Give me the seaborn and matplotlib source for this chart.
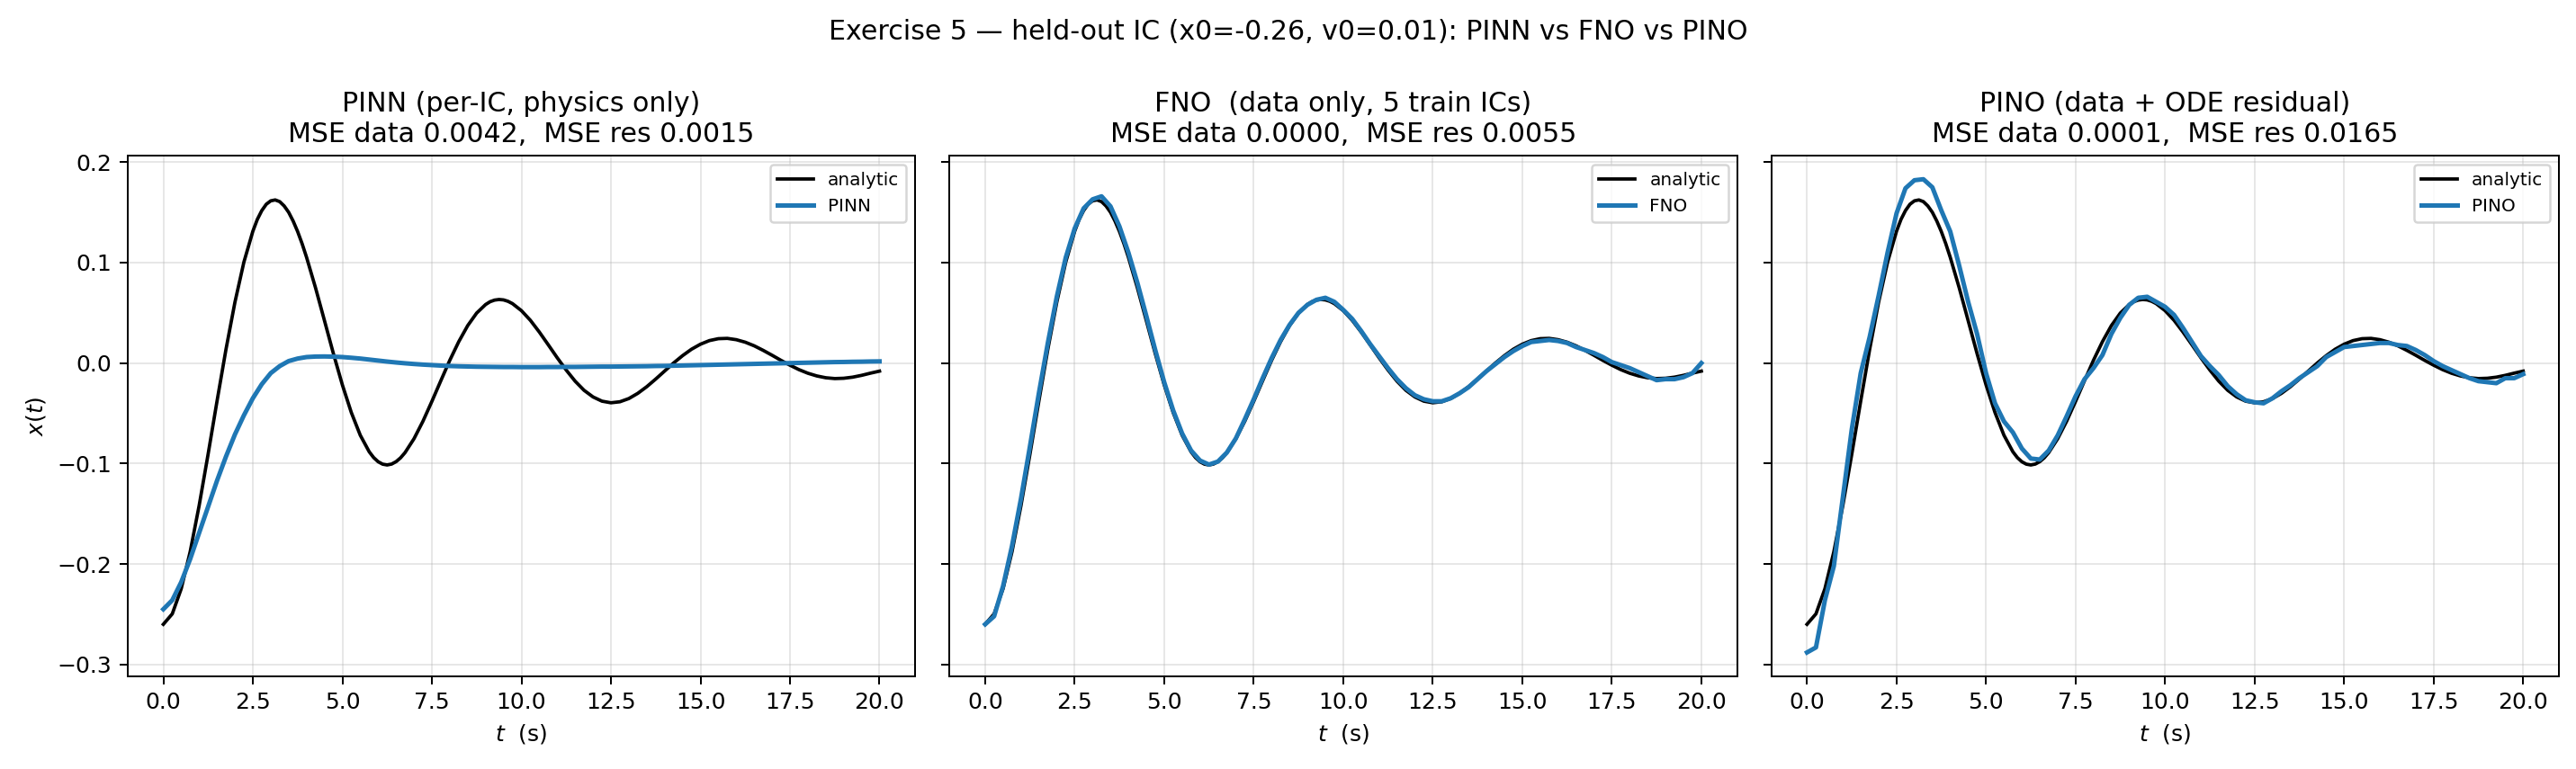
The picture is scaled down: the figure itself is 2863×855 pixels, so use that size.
import numpy as np
import pandas as pd
import matplotlib
matplotlib.use("Agg")
import matplotlib.pyplot as plt
import seaborn as sns

# time grid (s) for the network predictions
t = np.linspace(0, 20, 81)

# analytic solution (denser near the extremes)
t_analytic = [
    0.0, 0.25, 0.5, 0.75, 1.0, 1.25, 1.5, 1.75, 2.0, 2.25, 2.5,
    2.625, 2.75, 2.875, 3.0, 3.125, 3.25, 3.375, 3.5, 3.625, 3.75, 3.875,
    4.0, 4.25, 4.5, 4.75, 5.0, 5.25, 5.5, 5.75,
    5.875, 6.0, 6.125, 6.25, 6.375, 6.5, 6.625, 6.75,
    7.0, 7.25, 7.5, 7.75, 8.0, 8.25, 8.5, 8.75,
    9.0, 9.125, 9.25, 9.375, 9.5, 9.625, 9.75,
    10.0, 10.25, 10.5, 10.75, 11.0, 11.25, 11.5, 11.75,
    12.0, 12.25, 12.5, 12.75, 13.0, 13.25, 13.5, 13.75,
    14.0, 14.25, 14.5, 14.75, 15.0, 15.25, 15.5, 15.75,
    16.0, 16.25, 16.5, 16.75, 17.0, 17.25, 17.5, 17.75,
    18.0, 18.25, 18.5, 18.75, 19.0, 19.25, 19.5, 19.75, 20.0,
]
analytic = [
    -0.2600, -0.2496, -0.2246, -0.1877, -0.1419, -0.0908, -0.0378, 0.0137, 0.0606, 0.1005, 0.1312,
    0.1430, 0.1518, 0.1581, 0.1615, 0.1624, 0.1607, 0.1564, 0.1501, 0.1414, 0.1310, 0.1189,
    0.1053, 0.0750, 0.0423, 0.0094, -0.0217, -0.0492, -0.0718, -0.0883,
    -0.0941, -0.0982, -0.1006, -0.1014, -0.1005, -0.0981, -0.0943, -0.0891,
    -0.0753, -0.0579, -0.0381, -0.0175, 0.0028, 0.0213, 0.0373, 0.0498,
    0.0583, 0.0611, 0.0627, 0.0633, 0.0629, 0.0615, 0.0592,
    0.0522, 0.0426, 0.0309, 0.0182, 0.0053, -0.0069, -0.0180, -0.0271,
    -0.0337, -0.0379, -0.0395, -0.0385, -0.0353, -0.0301, -0.0235, -0.0159,
    -0.0079, 0.0001, 0.0074, 0.0138, 0.0188, 0.0224, 0.0243, 0.0246,
    0.0233, 0.0208, 0.0172, 0.0127, 0.0078, 0.0027, -0.0021, -0.0065,
    -0.0101, -0.0128, -0.0146, -0.0154, -0.0151, -0.0140, -0.0122, -0.0100, -0.0080,
]

pinn = [
    -0.245, -0.236, -0.218, -0.195,
    -0.169, -0.143, -0.117, -0.093,
    -0.071, -0.052, -0.035, -0.021,
    -0.010, -0.003, 0.002, 0.0045,
    0.006, 0.0065, 0.0066, 0.0064,
    0.006, 0.0053, 0.0045, 0.0035,
    0.0025, 0.0015, 0.0006, -0.0002,
    -0.0009, -0.0015, -0.0020, -0.0025,
    -0.0029, -0.0032, -0.0034, -0.0036,
    -0.0037, -0.0038, -0.0039, -0.0039,
    -0.0040, -0.0040, -0.0040, -0.0039,
    -0.0039, -0.0038, -0.0038, -0.0037,
    -0.0036, -0.0035, -0.0035, -0.0034,
    -0.0033, -0.0032, -0.0031, -0.0029,
    -0.0028, -0.0026, -0.0024, -0.0022,
    -0.0020, -0.0018, -0.0016, -0.0014,
    -0.0012, -0.0010, -0.0008, -0.0006,
    -0.0004, -0.0002, 0.0000, 0.0002,
    0.0004, 0.0006, 0.0008, 0.0010,
    0.0011, 0.0013, 0.0014, 0.0016,
    0.0017,
]

fno = [
    -0.260, -0.252, -0.222, -0.182,
    -0.135, -0.083, -0.030, 0.020,
    0.066, 0.105, 0.134, 0.154,
    0.163, 0.166, 0.156, 0.136,
    0.110, 0.080, 0.047, 0.013,
    -0.019, -0.047, -0.070, -0.087,
    -0.097, -0.101, -0.098, -0.089,
    -0.075, -0.056, -0.036, -0.015,
    0.005, 0.023, 0.038, 0.050,
    0.058, 0.063, 0.065, 0.061,
    0.053, 0.044, 0.032, 0.019,
    0.007, -0.005, -0.016, -0.025,
    -0.032, -0.036, -0.038, -0.038,
    -0.035, -0.030, -0.024, -0.016,
    -0.008, -0.001, 0.006, 0.012,
    0.017, 0.021, 0.022, 0.023,
    0.022, 0.020, 0.016, 0.013,
    0.010, 0.006, 0.001, -0.002,
    -0.005, -0.009, -0.013, -0.017,
    -0.016, -0.016, -0.014, -0.010,
    0.000,
]

pino = [
    -0.288, -0.283, -0.236, -0.202,
    -0.134, -0.066, -0.010, 0.026,
    0.067, 0.110, 0.149, 0.174,
    0.182, 0.183, 0.175, 0.152,
    0.131, 0.097, 0.061, 0.029,
    -0.010, -0.040, -0.058, -0.069,
    -0.085, -0.095, -0.096, -0.087,
    -0.072, -0.053, -0.033, -0.016,
    -0.005, 0.008, 0.029, 0.045,
    0.058, 0.065, 0.066, 0.061,
    0.056, 0.048, 0.035, 0.021,
    0.007, -0.003, -0.012, -0.023,
    -0.031, -0.037, -0.039, -0.040,
    -0.035, -0.028, -0.022, -0.015,
    -0.009, -0.003, 0.006, 0.011,
    0.016, 0.017, 0.018, 0.019,
    0.020, 0.020, 0.018, 0.017,
    0.013, 0.008, 0.002, -0.003,
    -0.007, -0.011, -0.015, -0.018,
    -0.019, -0.020, -0.015, -0.015,
    -0.011,
]

model_names = ["PINN", "FNO", "PINO"]
model_values = [pinn, fno, pino]
titles = [
    "PINN (per-IC, physics only)\nMSE data 0.0042,  MSE res 0.0015",
    "FNO  (data only, 5 train ICs)\nMSE data 0.0000,  MSE res 0.0055",
    "PINO (data + ODE residual)\nMSE data 0.0001,  MSE res 0.0165",
]
suptitle = "Exercise 5 \u2014 held-out IC (x0=-0.26, v0=0.01): PINN vs FNO vs PINO"

plt.rcParams['font.family'] = ['DejaVu Sans']

fig, axes = plt.subplots(1, 3, figsize=(2863 / 180, 855 / 180), dpi=180, sharey=True)
fig.subplots_adjust(left=0.0495, right=0.9934, bottom=0.1208, top=0.7977, wspace=0.0432)

df_a = pd.DataFrame({"t": t_analytic, "x": analytic})
for ax, name, vals, title in zip(axes, model_names, model_values, titles):
    df_m = pd.DataFrame({"t": t, "x": vals})
    sns.lineplot(data=df_a, x="t", y="x", ax=ax, color="black", lw=1.5, label="analytic")
    sns.lineplot(data=df_m, x="t", y="x", ax=ax, color="#1f77b4", lw=2.0, label=name)
    ax.set_title(title, fontsize=12)
    ax.set_xlabel("$t$  (s)")
    ax.set_ylabel("")
    ax.grid(True, alpha=0.3)
    ax.legend(loc="upper right", fontsize=8)

axes[0].set_ylabel("$x(t)$")
fig.suptitle(suptitle, fontsize=12, y=0.975)
fig.savefig("out.png", dpi=180)
